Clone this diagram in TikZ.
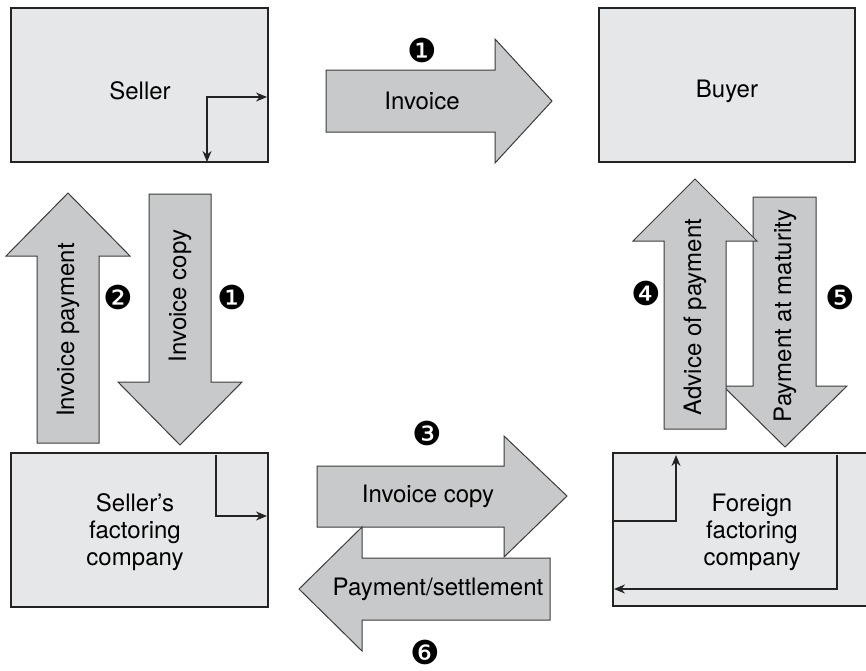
\documentclass[tikz,border=0pt]{standalone}
\usepackage{fontspec}
\setmainfont{TeX Gyre Heros}
\newfontfamily\dingfont{DejaVu Sans}
\usetikzlibrary{arrows.meta}
\definecolor{boxfill}{RGB}{230,231,232}
\definecolor{arrowfill}{RGB}{200,201,203}
\definecolor{edge}{RGB}{35,35,35}
\definecolor{arrowedge}{RGB}{60,60,60}

\begin{document}
\begin{tikzpicture}[x=0.5pt,y=-0.5pt,
  box/.style={draw=edge, fill=boxfill, line width=0.6pt},
  blockarrow/.style={draw=arrowedge, fill=arrowfill, line width=0.5pt, line join=miter},
  lbl/.style={font=\fontsize{12}{13.5}\selectfont, align=center, inner sep=0pt},
  vlbl/.style={lbl, rotate=90},
  stepnum/.style={font=\dingfont\fontsize{16.5}{16.5}\selectfont, inner sep=0pt},
  flow/.style={draw=edge, line width=0.6pt, -{Stealth[length=5.5pt,width=4.5pt]}},
  dflow/.style={draw=edge, line width=0.6pt, {Stealth[length=5.5pt,width=4.5pt]}-{Stealth[length=5.5pt,width=4.5pt]}},
]
\useasboundingbox (0,0) rectangle (866,670);

% parties
\draw[box] (11,8) rectangle (268,162);
\draw[box] (599,8) rectangle (855,162);
\draw[box] (11,453) rectangle (268,607);
\draw[box] (613,453) rectangle (880,606);

\node[lbl] (seller) at (140,91) {Seller};
\node[lbl] (buyer) at (727,91) {Buyer};
\node[lbl] (sfc) at (135,532) {Seller’s\\factoring\\company};
\node[lbl] (ffc) at (752,532) {Foreign\\factoring\\company};

% internal routing inside the boxes
\coordinate (sa) at (207,162);
\coordinate (sb) at (267,97);
\draw[dflow] (sa) |- (sb);

\coordinate (fa) at (216,455);
\coordinate (fb) at (267,516);
\draw[flow] (fa) |- (fb);

\coordinate (ga) at (613,521);
\coordinate (gb) at (676,455);
\draw[flow] (ga) -| (gb);

\coordinate (ha) at (837,455);
\coordinate (hb) at (614,589);
\draw[flow] (ha) |- (hb);

% block arrows: seller -> buyer
\draw[blockarrow] (326,70) -- (495,70) -- (495,39) -- (552,101) -- (495,163) -- (495,132) -- (326,132) -- cycle;
\node[lbl] (invoice) at (422,101) {Invoice};
\node[stepnum] (n1a) at (422,50) {❶};

% seller <-> seller's factoring company
\draw[blockarrow] (37,443) -- (37,256) -- (6,256) -- (68,193) -- (130,256) -- (99,256) -- (99,443) -- cycle;
\draw[blockarrow] (149,194) -- (211,194) -- (211,382) -- (242,382) -- (180,445) -- (118,382) -- (149,382) -- cycle;
\node[vlbl] (invpay) at (68,330) {Invoice payment};
\node[vlbl] (invcopy1) at (180,296) {Invoice copy};
\node[stepnum] (n2) at (118,297) {❷};
\node[stepnum] (n1b) at (232,297) {❶};

% buyer <-> foreign factoring company
\draw[blockarrow] (753,197) -- (816,197) -- (816,386) -- (847,386) -- (785,447) -- (723,386) -- (753,386) -- cycle;
\draw[blockarrow] (664,429) -- (664,241) -- (633,241) -- (695,179) -- (757,241) -- (726,241) -- (726,429) -- cycle;
\node[vlbl] (advice) at (695,317) {Advice of payment};
\node[vlbl] (maturity) at (785,316) {Payment at maturity};
\node[stepnum] (n4) at (646,293) {❹};
\node[stepnum] (n5) at (840,297) {❺};

% factoring companies
\draw[blockarrow] (317,466) -- (504,466) -- (504,436) -- (567,496) -- (504,557) -- (504,527) -- (317,527) -- cycle;
\draw[blockarrow] (550,558) -- (362,558) -- (362,527) -- (299,589) -- (362,651) -- (362,620) -- (550,620) -- cycle;
\node[lbl] (invcopy2) at (428,496) {Invoice copy};
\node[lbl] (settle) at (438,589) {Payment/settlement};
\node[stepnum] (n3) at (427,433) {❸};
\node[stepnum] (n6) at (425,652) {❻};
\end{tikzpicture}
\end{document}
